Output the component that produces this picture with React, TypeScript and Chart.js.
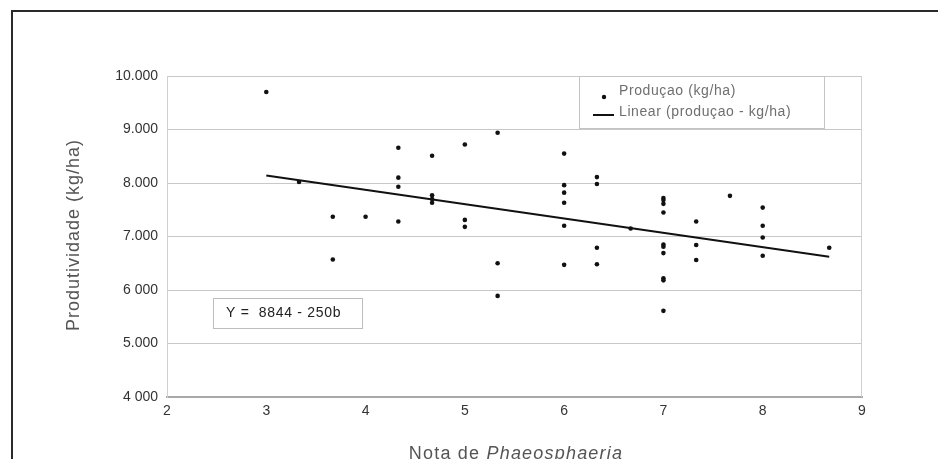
import React, { useEffect, useRef } from "react";
import { Chart, registerables } from "chart.js";
Chart.register(...registerables);

// Nota de Phaeosphaeria (x) and produtividade kg/ha (y)
const notaX = [
  3.0, 3.33, 3.67, 3.67, 4.0,
  4.33, 4.33, 4.33, 4.33,
  4.67, 4.67, 4.67, 4.67,
  5.0, 5.0, 5.0,
  5.33, 5.33, 5.33,
  6.0, 6.0, 6.0, 6.0, 6.0, 6.0,
  6.33, 6.33, 6.33, 6.33,
  6.67,
  7.0, 7.0, 7.0, 7.0, 7.0, 7.0, 7.0, 7.0, 7.0, 7.0,
  7.33, 7.33, 7.33,
  7.67,
  8.0, 8.0, 8.0, 8.0,
  8.67,
];
const produtividadeY = [
  9700, 8020, 7370, 6570, 7370,
  8660, 8100, 7930, 7280,
  8510, 7770, 7700, 7630,
  8720, 7310, 7180,
  8940, 6500, 5890,
  8550, 7960, 7820, 7630, 7200, 6470,
  8110, 7980, 6790, 6480,
  7150,
  7720, 7680, 7610, 7450, 6850, 6810, 6690, 6220, 6180, 5610,
  7280, 6840, 6560,
  7760,
  7540, 7200, 6980, 6640,
  6790,
];
const trendX = [3.0, 8.67];
const trendY = [8140, 6620];

const yTickValues = [4000, 5000, 6000, 7000, 8000, 9000, 10000];
const yTickLabels = ["4 000", "5.000", "6 000", "7.000", "8.000", "9.000", "10.000"];
const xTickValues = [2, 3, 4, 5, 6, 7, 8, 9];
const xTickLabels = ["2", "3", "4", "5", "6", "7", "8", "9"];

const seriesLabel = "Produçao (kg/ha)";
const trendLabel = "Linear (produçao - kg/ha)";
const equationText = "Y =  8844 - 250b";
const yTitle = "Produtividade (kg/ha)";
const xTitleA = "Nota de ";
const xTitleB = "Phaeosphaeria";

const FONT = "Arial, 'Liberation Sans', sans-serif";

const overlayPlugin = {
  id: "overlay",
  afterDraw(chart: any) {
    const ctx = chart.ctx as CanvasRenderingContext2D;
    const a = chart.chartArea;
    ctx.save();
    // right border of plot
    ctx.strokeStyle = "#cfcfcf";
    ctx.lineWidth = 1;
    ctx.beginPath();
    ctx.moveTo(a.right - 0.5, a.top);
    ctx.lineTo(a.right - 0.5, a.bottom);
    ctx.stroke();

    // legend box
    const lx = a.right - 283, ly = a.top, lw = 245, lh = 52;
    ctx.fillStyle = "#ffffff";
    ctx.fillRect(lx, ly, lw, lh);
    ctx.strokeStyle = "#c4c4c4";
    ctx.strokeRect(lx + 0.5, ly + 0.5, lw, lh);
    ctx.fillStyle = "#111";
    ctx.beginPath();
    ctx.arc(lx + 25, ly + 21, 2.2, 0, Math.PI * 2);
    ctx.fill();
    ctx.strokeStyle = "#111";
    ctx.lineWidth = 2;
    ctx.beginPath();
    ctx.moveTo(lx + 14, ly + 39);
    ctx.lineTo(lx + 35, ly + 39);
    ctx.stroke();
    ctx.font = `14px ${FONT}`;
    (ctx as any).letterSpacing = "0.6px";
    ctx.fillStyle = "#6f6f6f";
    ctx.textBaseline = "middle";
    ctx.textAlign = "left";
    ctx.fillText(seriesLabel, lx + 40, ly + 15);
    ctx.fillText(trendLabel, lx + 40, ly + 36);

    // equation box
    const ex = a.left + 46, ey = a.top + 222, ew = 149, eh = 30;
    ctx.fillStyle = "#ffffff";
    ctx.fillRect(ex, ey, ew, eh);
    ctx.strokeStyle = "#bdbdbd";
    ctx.lineWidth = 1;
    ctx.strokeRect(ex + 0.5, ey + 0.5, ew, eh);
    ctx.fillStyle = "#222";
    (ctx as any).letterSpacing = "0.7px";
    ctx.fillText(equationText, ex + 13, ey + 15);

    // y title
    ctx.save();
    ctx.translate(74, 235);
    ctx.rotate(-Math.PI / 2);
    ctx.font = `18px ${FONT}`;
    (ctx as any).letterSpacing = "1px";
    ctx.fillStyle = "#555";
    ctx.textAlign = "center";
    ctx.textBaseline = "middle";
    ctx.fillText(yTitle, 0, 0);
    ctx.restore();

    // x title (mixed normal / italic)
    ctx.font = `18px ${FONT}`;
    (ctx as any).letterSpacing = "1.2px";
    const wA = ctx.measureText(xTitleA).width;
    ctx.font = `italic 18px ${FONT}`;
    const wB = ctx.measureText(xTitleB).width;
    const startX = 516 - (wA + wB) / 2;
    ctx.fillStyle = "#555";
    ctx.textAlign = "left";
    ctx.textBaseline = "alphabetic";
    ctx.font = `18px ${FONT}`;
    ctx.fillText(xTitleA, startX, 459);
    ctx.font = `italic 18px ${FONT}`;
    ctx.fillText(xTitleB, startX + wA, 459);
    ctx.restore();
  },
};

export default function App() {
  const ref = useRef<HTMLCanvasElement | null>(null);
  useEffect(() => {
    if (!ref.current) return;
    const points = notaX.map((x, i) => ({ x, y: produtividadeY[i] }));
    const trend = trendX.map((x, i) => ({ x, y: trendY[i] }));
    const chart = new Chart(ref.current, {
      type: "scatter",
      data: {
        datasets: [
          {
            label: seriesLabel,
            data: points,
            pointRadius: 2.3,
            pointBackgroundColor: "#111",
            pointBorderWidth: 0,
            showLine: false,
          },
          {
            type: "line",
            label: trendLabel,
            data: trend,
            borderColor: "#111",
            borderWidth: 2,
            pointRadius: 0,
            fill: false,
          } as any,
        ],
      },
      options: {
        responsive: false,
        animation: false,
        devicePixelRatio: 1,
        layout: { padding: { left: 0, top: 76, right: 76, bottom: 0 } },
        plugins: { legend: { display: false }, tooltip: { enabled: false } },
        scales: {
          x: {
            type: "linear",
            min: 2,
            max: 9,
            afterBuildTicks: (s: any) => {
              s.ticks = xTickValues.map((v) => ({ value: v }));
            },
            afterFit: (s: any) => {
              s.height = 62;
            },
            ticks: {
              padding: 6,
              color: "#333",
              font: { size: 14, family: FONT },
              callback: (v: any) => xTickLabels[xTickValues.indexOf(Number(v))] ?? "",
            },
            grid: { display: false, drawTicks: false },
            border: { display: true, color: "#a8a8a8", width: 2 },
          },
          y: {
            type: "linear",
            min: 4000,
            max: 10000,
            afterBuildTicks: (s: any) => {
              s.ticks = yTickValues.map((v) => ({ value: v }));
            },
            afterFit: (s: any) => {
              s.width = 167;
            },
            ticks: {
              padding: 9,
              color: "#333",
              font: { size: 14, family: FONT },
              callback: (v: any) => yTickLabels[yTickValues.indexOf(Number(v))] ?? "",
            },
            grid: { color: "#c8c8c8", lineWidth: 1, drawTicks: false },
            border: { display: true, color: "#d0d0d0" },
          },
        },
      },
      plugins: [overlayPlugin],
    });
    return () => chart.destroy();
  }, []);

  return (
    <div style={{ position: "fixed", left: 0, top: 0, width: 938, height: 459, background: "#fff", overflow: "hidden" }}>
      <canvas ref={ref} width={938} height={459} style={{ position: "absolute", left: 0, top: 0, width: 938, height: 459 }} />
      <div
        style={{
          position: "absolute",
          left: 11,
          top: 10,
          width: 940,
          height: 460,
          borderTop: "2px solid #2a2a2a",
          borderLeft: "2px solid #2a2a2a",
          pointerEvents: "none",
        }}
      />
    </div>
  );
}
